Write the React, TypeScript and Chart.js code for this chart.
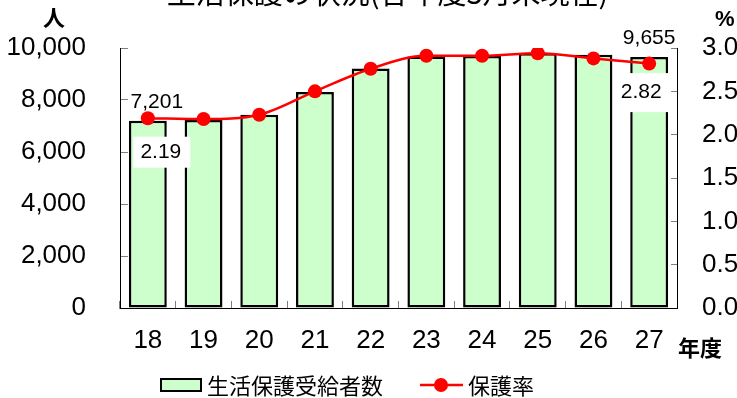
import { useEffect, useRef } from 'react';
import { Chart, registerables } from 'chart.js';

Chart.register(...registerables);

// 年度 (平成)
const fiscalYears = ['18', '19', '20', '21', '22', '23', '24', '25', '26', '27'];
// 生活保護受給者数 (人)
const recipientCounts = [7201, 7230, 7430, 8310, 9210, 9670, 9690, 9800, 9740, 9655];
// 保護率 (%)
const protectionRates = [2.19, 2.18, 2.23, 2.5, 2.76, 2.91, 2.91, 2.94, 2.88, 2.82];

const countAxisMax = 10000;
const countAxisStep = 2000;
const rateAxisMax = 3;
const rateAxisStep = 0.5;

const chartTitle = '生活保護の状況(各年度3月末現在)';
const countSeriesName = '生活保護受給者数';
const rateSeriesName = '保護率';
const countUnit = '人';
const rateUnit = '%';
const yearUnit = '年度';

const NUM_FONT = "'Liberation Sans', Arial, sans-serif";
const JP_FONT = "'Noto Sans CJK JP', 'Noto Sans CJK SC', sans-serif";

const BAR_FILL = '#CCFFCC';
const LINE_RED = '#FF0000';
const TICK_GREY = '#808080';

const decorations = {
  id: 'decorations',
  afterDatasetsDraw(chart: any) {
    const { ctx } = chart;
    const bars = chart.getDatasetMeta(0).data;
    const points = chart.getDatasetMeta(1).data;
    ctx.save();
    ctx.textAlign = 'center';
    ctx.textBaseline = 'middle';
    ctx.font = `21px ${NUM_FONT}`;

    // count labels above the first and last bars
    const countLabels = [
      { i: 0, dx: 9, dy: -19 },
      { i: fiscalYears.length - 1, dx: 0, dy: -19 },
    ];
    for (const { i, dx, dy } of countLabels) {
      const b = bars[i];
      ctx.fillStyle = '#000';
      ctx.fillText(recipientCounts[i].toLocaleString('en-US'), b.x + dx, b.y + dy);
    }

    // rate labels on white boxes below the first and last points
    const rateLabels = [
      { i: 0, dx: 14, dy: 34, w: 57, h: 31 },
      { i: fiscalYears.length - 1, dx: -7, dy: 29, w: 58, h: 39 },
    ];
    for (const { i, dx, dy, w, h } of rateLabels) {
      const p = points[i];
      const cx = p.x + dx;
      const cy = p.y + dy;
      ctx.fillStyle = '#FFFFFF';
      ctx.fillRect(cx - w / 2, cy - h / 2, w, h);
      ctx.fillStyle = '#000';
      ctx.fillText(protectionRates[i].toFixed(2), cx - 1, cy);
    }
    ctx.restore();
  },
  afterDraw(chart: any) {
    const { ctx } = chart;
    ctx.save();
    ctx.fillStyle = '#000';

    // title, partly above the top edge
    ctx.font = `29px ${JP_FONT}`;
    ctx.textAlign = 'center';
    ctx.textBaseline = 'alphabetic';
    ctx.fillText(chartTitle, 387.5, 4);

    // axis units
    ctx.textBaseline = 'middle';
    ctx.font = `bold 22px ${JP_FONT}`;
    ctx.fillText(countUnit, 54, 18);
    ctx.textAlign = 'left';
    ctx.fillText(yearUnit, 678, 348);
    ctx.font = `bold 22px ${NUM_FONT}`;
    ctx.fillText(rateUnit, 715, 20);

    // legend
    const ly = 385;
    ctx.fillStyle = BAR_FILL;
    ctx.fillRect(161, ly - 6, 40, 12);
    ctx.strokeStyle = '#000';
    ctx.lineWidth = 2;
    ctx.strokeRect(161, ly - 6, 40, 12);
    ctx.fillStyle = '#000';
    ctx.font = `22px ${JP_FONT}`;
    ctx.textAlign = 'left';
    ctx.fillText(countSeriesName, 207, ly + 1);

    ctx.strokeStyle = LINE_RED;
    ctx.lineWidth = 2.5;
    ctx.beginPath();
    ctx.moveTo(420, ly);
    ctx.lineTo(463, ly);
    ctx.stroke();
    ctx.fillStyle = LINE_RED;
    ctx.beginPath();
    ctx.arc(441, ly, 7, 0, Math.PI * 2);
    ctx.fill();
    ctx.fillStyle = '#000';
    ctx.fillText(rateSeriesName, 468, ly + 1);

    ctx.restore();
  },
};

// fixed box sizes for the axes so the plot area sits at a known place
const fixWidth = (w: number) => (s: any) => {
  s.width = w;
  s.paddingTop = 8;
  s.paddingBottom = 8;
};

export default function App() {
  const canvasRef = useRef<HTMLCanvasElement | null>(null);

  useEffect(() => {
    const canvas = canvasRef.current;
    if (!canvas) return;
    const tickFont = { family: NUM_FONT, size: 26 };
    const chart = new Chart(canvas, {
      type: 'bar',
      data: {
        labels: fiscalYears,
        datasets: [
          {
            type: 'bar',
            label: countSeriesName,
            data: recipientCounts,
            yAxisID: 'y',
            backgroundColor: BAR_FILL,
            borderColor: '#000',
            borderWidth: 2.5,
            borderSkipped: false,
            barPercentage: 0.68,
            categoryPercentage: 1,
            order: 2,
          },
          {
            type: 'line',
            label: rateSeriesName,
            data: protectionRates,
            yAxisID: 'y1',
            borderColor: LINE_RED,
            backgroundColor: LINE_RED,
            borderWidth: 2.5,
            pointRadius: 7,
            pointBorderWidth: 0,
            pointBackgroundColor: LINE_RED,
            cubicInterpolationMode: 'monotone',
            order: 1,
          },
        ] as any,
      },
      options: {
        responsive: false,
        animation: false,
        layout: { padding: { top: 48, left: 0, right: 0, bottom: 0 } },
        plugins: {
          legend: { display: false },
          title: { display: false },
          tooltip: { enabled: false },
        },
        scales: {
          x: {
            grid: {
              offset: true,
              drawOnChartArea: false,
              tickLength: -7,
              color: TICK_GREY,
              lineWidth: 1,
            },
            border: { color: '#000', width: 1 },
            ticks: { font: tickFont, color: '#000', padding: 24, maxRotation: 0 },
            afterFit: (s: any) => {
              s.height = 90;
              s.paddingLeft = 0;
              s.paddingRight = 0;
            },
          },
          y: {
            position: 'left',
            min: 0,
            max: countAxisMax,
            ticks: {
              stepSize: countAxisStep,
              font: tickFont,
              color: '#000',
              padding: 42,
              callback: (v: any) => Number(v).toLocaleString('en-US'),
            },
            grid: { drawOnChartArea: false, tickLength: -8, color: TICK_GREY },
            border: { color: '#000', width: 1 },
            afterFit: fixWidth(120),
          },
          y1: {
            position: 'right',
            min: 0,
            max: rateAxisMax,
            ticks: {
              stepSize: rateAxisStep,
              font: tickFont,
              color: '#000',
              padding: 31,
              callback: (v: any) => Number(v).toFixed(1),
            },
            grid: { drawOnChartArea: false, tickLength: -6, color: TICK_GREY },
            border: { color: '#000', width: 1 },
            afterFit: fixWidth(60),
          },
        },
      } as any,
      plugins: [decorations],
    });
    return () => chart.destroy();
  }, []);

  return (
    <div
      style={{
        position: 'absolute',
        left: 0,
        top: 0,
        width: 737,
        height: 398,
        overflow: 'hidden',
        background: '#fff',
      }}
    >
      <canvas ref={canvasRef} width={737} height={398} style={{ display: 'block', width: 737, height: 398 }} />
    </div>
  );
}
